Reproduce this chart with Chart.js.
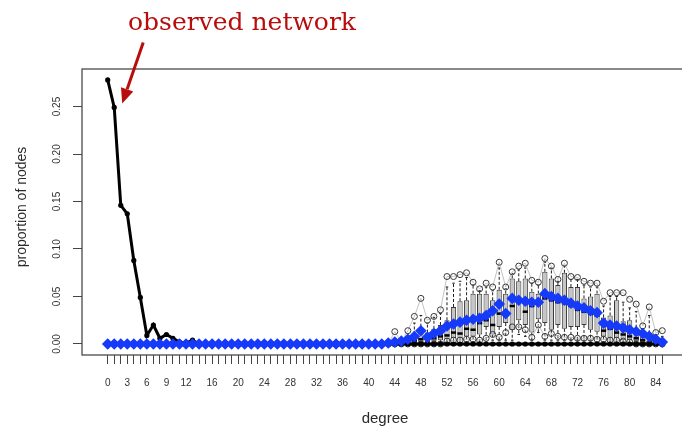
<!DOCTYPE html>
<html>
<head>
<meta charset="utf-8">
<script src="https://cdn.jsdelivr.net/npm/chart.js@4.4.1/dist/chart.umd.min.js"></script>
<style>
  html, body { margin: 0; padding: 0; background: #fff; overflow: hidden; width: 682px; height: 428px; }
  #wrap { position: absolute; left: 0; top: 0; width: 700px; height: 428px; }
</style>
</head>
<body>
<div id="wrap"><canvas id="c" width="700" height="428"></canvas></div>
<script>
// Degree categories 0..85
const degrees = Array.from({ length: 86 }, (_, i) => i);

// Tick labels shown on the axes
const xTickLabels = [0, 3, 6, 9, 12, 16, 20, 24, 28, 32, 36, 40, 44, 48, 52, 56, 60, 64, 68, 72, 76, 80, 84];
const yTickValues = [0, 0.05, 0.10, 0.15, 0.20, 0.25];

// Observed degree distribution (proportion of nodes), degrees 0..85
const observed = [
  0.278, 0.249, 0.146, 0.137, 0.088, 0.049, 0.009, 0.020, 0.006, 0.010,
  0.006, 0.002, 0.001, 0.004, 0, 0, 0, 0, 0, 0,
  0, 0, 0, 0, 0, 0, 0, 0, 0, 0,
  0, 0, 0, 0, 0, 0, 0, 0, 0, 0,
  0, 0, 0, 0, 0, 0, 0, 0, 0, 0,
  0, 0, 0, 0, 0, 0, 0, 0, 0, 0,
  0, 0, 0, 0, 0, 0, 0, 0, 0, 0,
  0, 0, 0, 0, 0, 0, 0, 0, 0, 0,
  0, 0, 0, 0, 0, 0
];

// Mean of the simulated networks, degrees 0..85
const simMean = [
  0, 0, 0, 0, 0, 0, 0, 0, 0, 0,
  0, 0, 0, 0, 0, 0, 0, 0, 0, 0,
  0, 0, 0, 0, 0, 0, 0, 0, 0, 0,
  0, 0, 0, 0, 0, 0, 0, 0, 0, 0,
  0, 0, 0, 0.001, 0.002, 0.003, 0.005, 0.008, 0.014, 0.007,
  0.011, 0.014, 0.019, 0.021, 0.023, 0.025, 0.026, 0.027, 0.030, 0.035,
  0.042, 0.032, 0.048, 0.046, 0.045, 0.044, 0.044, 0.053, 0.050, 0.048,
  0.046, 0.043, 0.040, 0.038, 0.035, 0.033, 0.022, 0.020, 0.019, 0.017,
  0.015, 0.013, 0.011, 0.008, 0.005, 0.002
];

// Degrees with simulated spread (boxplots)
const boxDegrees = Array.from({ length: 43 }, (_, i) => 43 + i);

// Simulated quantile bounds (2.5% / 97.5%), degrees 43..85
const upperBound = [
  0, 0.013, 0.002, 0.014, 0.029, 0.048, 0.025, 0.029, 0.036, 0.071,
  0.071, 0.073, 0.075, 0.065, 0.058, 0.064, 0.060, 0.086, 0.060, 0.076,
  0.082, 0.085, 0.067, 0.065, 0.090, 0.082, 0.068, 0.085, 0.071, 0.070,
  0.066, 0.064, 0.064, 0.045, 0.054, 0.054, 0.054, 0.047, 0.042, 0.019,
  0.039, 0.012, 0.014
];
const lowerBound = [
  0, 0, 0, 0, 0, 0, 0, 0, 0, 0.003,
  0.004, 0.004, 0.005, 0.005, 0.004, 0.006, 0.010, 0.007, 0.012, 0.018,
  0.018, 0.015, 0.007, 0.020, 0.008, 0.011, 0.008, 0.007, 0.007, 0.006,
  0.006, 0.006, 0.005, 0.005, 0.004, 0.004, 0.003, 0.002, 0, 0,
  0, 0, 0
];

// Box statistics of the simulated networks, degrees 43..85
const boxLow = [
  0, 0, 0, 0, 0, 0, 0, 0, 0, 0,
  0, 0, 0.002, 0.002, 0.002, 0.002, 0.004, 0.004, 0.004, 0.004,
  0.010, 0.008, 0.004, 0.012, 0.004, 0.004, 0.004, 0.004, 0.004, 0.004,
  0.004, 0.004, 0.002, 0.002, 0.002, 0.002, 0, 0, 0, 0,
  0, 0, 0
];
const boxQ1 = [
  0, 0, 0, 0, 0, 0.002, 0.002, 0.003, 0.004, 0.005,
  0.006, 0.006, 0.008, 0.008, 0.010, 0.018, 0.010, 0.018, 0.022, 0.015,
  0.025, 0.020, 0.012, 0.026, 0.022, 0.015, 0.020, 0.016, 0.018, 0.018,
  0.020, 0.015, 0.013, 0.008, 0.006, 0.006, 0.004, 0.004, 0.003, 0,
  0, 0, 0
];
const boxMedian = [
  0, 0, 0, 0, 0.003, 0.005, 0.006, 0.006, 0.008, 0.009,
  0.012, 0.011, 0.016, 0.015, 0.022, 0.025, 0.020, 0.032, 0.030, 0.040,
  0.045, 0.034, 0.040, 0.042, 0.048, 0.046, 0.044, 0.043, 0.040, 0.036,
  0.034, 0.032, 0.030, 0.014, 0.016, 0.012, 0.010, 0.008, 0.006, 0.004,
  0.002, 0, 0
];
const boxQ3 = [
  0, 0, 0, 0.003, 0.010, 0.013, 0.012, 0.016, 0.020, 0.025,
  0.039, 0.045, 0.046, 0.053, 0.053, 0.053, 0.046, 0.057, 0.053, 0.069,
  0.066, 0.069, 0.055, 0.053, 0.076, 0.069, 0.062, 0.075, 0.060, 0.060,
  0.048, 0.050, 0.053, 0.028, 0.030, 0.046, 0.024, 0.025, 0.012, 0.008,
  0.006, 0.003, 0.002
];
const boxHigh = [
  0, 0.004, 0.002, 0.008, 0.022, 0.030, 0.022, 0.028, 0.032, 0.060,
  0.064, 0.066, 0.070, 0.062, 0.056, 0.060, 0.056, 0.080, 0.058, 0.074,
  0.078, 0.080, 0.064, 0.062, 0.086, 0.080, 0.066, 0.082, 0.068, 0.068,
  0.062, 0.060, 0.060, 0.040, 0.050, 0.050, 0.044, 0.038, 0.034, 0.016,
  0.030, 0.010, 0.008
];

const BLUE = 'rgb(22, 58, 250)';
const SANS = "'Liberation Sans', Arial, Helvetica, sans-serif";
const BOX_INDEX = 4;

const pts = (xs, ys) => xs.map((d, i) => ({ x: d, y: ys[i] }));

// Whiskers, staples, medians and the plot frame
const boxParts = {
  id: 'boxParts',
  beforeDatasetsDraw(chart) {
    const { ctx, chartArea: a, scales: { x, y } } = chart;
    const meta = chart.getDatasetMeta(BOX_INDEX);
    ctx.save();
    ctx.beginPath();
    ctx.rect(a.left, a.top, a.right - a.left, a.bottom - a.top);
    ctx.clip();
    ctx.strokeStyle = '#1e1e1e';
    ctx.lineWidth = 1;
    boxDegrees.forEach((d, i) => {
      const px = x.getPixelForValue(d);
      const w = meta.data[i] ? meta.data[i].width : 5;
      ctx.setLineDash([3, 2]);
      ctx.beginPath();
      ctx.moveTo(px, y.getPixelForValue(boxQ3[i]));
      ctx.lineTo(px, y.getPixelForValue(boxHigh[i]));
      ctx.moveTo(px, y.getPixelForValue(boxQ1[i]));
      ctx.lineTo(px, y.getPixelForValue(boxLow[i]));
      ctx.stroke();
      ctx.setLineDash([]);
      ctx.beginPath();
      const yh = y.getPixelForValue(boxHigh[i]);
      const yl = y.getPixelForValue(boxLow[i]);
      ctx.moveTo(px - w / 4, yh); ctx.lineTo(px + w / 4, yh);
      ctx.moveTo(px - w / 4, yl); ctx.lineTo(px + w / 4, yl);
      ctx.stroke();
    });
    ctx.restore();

    ctx.save();
    ctx.strokeStyle = '#4a4a4a';
    ctx.lineWidth = 1.3;
    ctx.strokeRect(a.left, a.top, a.right - a.left, a.bottom - a.top);
    ctx.restore();
  },
  afterDatasetDraw(chart, args) {
    if (args.index !== BOX_INDEX) return;
    const { ctx, scales: { x, y } } = chart;
    const meta = chart.getDatasetMeta(BOX_INDEX);
    ctx.save();
    ctx.strokeStyle = '#000';
    ctx.lineWidth = 2.5;
    boxDegrees.forEach((d, i) => {
      const px = x.getPixelForValue(d);
      const w = meta.data[i] ? meta.data[i].width : 5;
      const py = y.getPixelForValue(boxMedian[i]);
      ctx.beginPath();
      ctx.moveTo(px - w / 2, py);
      ctx.lineTo(px + w / 2, py);
      ctx.stroke();
    });
    ctx.restore();
  }
};

// Axis text, vertical tick labels and the callout
const labels = {
  id: 'labels',
  afterDraw(chart) {
    const { ctx, chartArea: a, scales: { x, y } } = chart;
    ctx.save();
    ctx.fillStyle = '#333';
    ctx.font = '10px ' + SANS;
    ctx.textAlign = 'center';
    ctx.textBaseline = 'middle';
    yTickValues.forEach(v => {
      ctx.save();
      ctx.translate(57, y.getPixelForValue(v));
      ctx.rotate(-Math.PI / 2);
      ctx.fillText(v.toFixed(2), 0, 0);
      ctx.restore();
    });

    ctx.fillStyle = '#2a2a2a';
    ctx.font = '14px ' + SANS;
    ctx.save();
    ctx.translate(22, (a.top + a.bottom) / 2 - 5);
    ctx.rotate(-Math.PI / 2);
    ctx.fillText('proportion of nodes', 0, 0);
    ctx.restore();

    ctx.font = '15px ' + SANS;
    ctx.fillText('degree', (a.left + a.right) / 2, 419);

    // callout pointing at the observed curve
    const RED = '#b80d0d';
    ctx.fillStyle = RED;
    ctx.font = "25px 'DejaVu Serif', 'Liberation Serif', serif";
    ctx.textAlign = 'left';
    ctx.textBaseline = 'alphabetic';
    ctx.fillText('observed network', 128, 30);

    const tipX = x.getPixelForValue(1) + 8;
    const tipY = y.getPixelForValue(observed[1]) - 4;
    const startX = tipX + 21, startY = tipY - 61;
    const ang = Math.atan2(tipY - startY, tipX - startX);
    const headLen = 15, headHalf = 6.5;
    const bx = tipX - headLen * Math.cos(ang), by = tipY - headLen * Math.sin(ang);
    ctx.strokeStyle = RED;
    ctx.lineWidth = 3;
    ctx.beginPath();
    ctx.moveTo(startX, startY);
    ctx.lineTo(bx, by);
    ctx.stroke();
    ctx.beginPath();
    ctx.moveTo(tipX, tipY);
    ctx.lineTo(bx + headHalf * Math.sin(ang), by - headHalf * Math.cos(ang));
    ctx.lineTo(bx - headHalf * Math.sin(ang), by + headHalf * Math.cos(ang));
    ctx.closePath();
    ctx.fill();
    ctx.restore();
  }
};

new Chart(document.getElementById('c'), {
  type: 'line',
  data: {
    datasets: [
      {
        label: 'simulated mean',
        data: pts(degrees, simMean),
        showLine: false,
        pointStyle: 'rectRot',
        pointRadius: 5.8,
        pointBackgroundColor: BLUE,
        pointBorderColor: BLUE,
        pointBorderWidth: 0
      },
      {
        label: 'observed',
        data: pts(degrees, observed),
        borderColor: '#000',
        borderWidth: 3,
        pointRadius: 2.6,
        pointBackgroundColor: '#000',
        pointBorderWidth: 0,
        tension: 0
      },
      {
        label: '97.5%',
        data: pts(boxDegrees, upperBound),
        borderColor: '#c2c2c2',
        borderWidth: 1,
        pointRadius: 3,
        pointBorderColor: '#3a3a3a',
        pointBackgroundColor: 'rgba(0,0,0,0)',
        pointBorderWidth: 1
      },
      {
        label: '2.5%',
        data: pts(boxDegrees, lowerBound),
        borderColor: '#c2c2c2',
        borderWidth: 1,
        pointRadius: 3,
        pointBorderColor: '#3a3a3a',
        pointBackgroundColor: 'rgba(0,0,0,0)',
        pointBorderWidth: 1
      },
      {
        type: 'bar',
        label: 'simulated',
        data: boxDegrees.map((d, i) => ({ x: d, y: [boxQ1[i], boxQ3[i]] })),
        backgroundColor: '#c6c6c6',
        borderColor: '#383838',
        borderWidth: 1,
        borderSkipped: false,
        barPercentage: 0.8,
        categoryPercentage: 1,
        grouped: false
      }
    ]
  },
  options: {
    responsive: false,
    animation: false,
    events: [],
    layout: { padding: { top: 69, right: 12, left: 0, bottom: 0 } },
    plugins: { legend: { display: false }, tooltip: { enabled: false } },
    scales: {
      x: {
        type: 'linear',
        min: -3.94,
        max: 88.94,
        offset: false,
        afterBuildTicks: s => { s.ticks = degrees.map(v => ({ value: v })); },
        afterFit: s => { s.height = 73; },
        grid: { drawOnChartArea: false, drawTicks: true, tickLength: 9, color: '#444', offset: false },
        border: { display: false },
        ticks: {
          autoSkip: false, maxRotation: 0, minRotation: 0, padding: 13,
          color: '#333', font: { family: SANS, size: 10 },
          callback: v => (xTickLabels.includes(v) ? String(v) : '')
        }
      },
      y: {
        type: 'linear',
        min: -0.0116,
        max: 0.2895,
        afterBuildTicks: s => { s.ticks = yTickValues.map(v => ({ value: v })); },
        afterFit: s => { s.width = 82; },
        grid: { drawOnChartArea: false, drawTicks: true, tickLength: 9, color: '#444' },
        border: { display: false },
        ticks: { display: false }
      }
    }
  },
  plugins: [boxParts, labels]
});
</script>
</body>
</html>
